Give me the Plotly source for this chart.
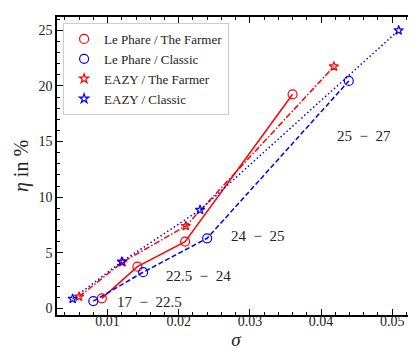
import plotly.graph_objects as go

# sigma / eta values per method, one point per magnitude bin
lp_farmer_sigma = [0.0092, 0.0142, 0.0209, 0.0360]
lp_farmer_eta = [0.9, 3.75, 6.0, 19.25]

lp_classic_sigma = [0.0080, 0.0150, 0.0240, 0.0439]
lp_classic_eta = [0.65, 3.25, 6.3, 20.45]

eazy_farmer_sigma = [0.0060, 0.0121, 0.0210, 0.0418]
eazy_farmer_eta = [1.05, 4.15, 7.4, 21.75]

eazy_classic_sigma = [0.0051, 0.0120, 0.0230, 0.0509]
eazy_classic_eta = [0.85, 4.2, 8.85, 25.0]

bin_labels = ["17\u2002−\u200222.5", "22.5\u2002−\u200224", "24\u2002−\u200225", "25\u2002−\u200227"]
label_x = [0.0111, 0.0180, 0.0270, 0.0419]
label_y = [0.55, 2.95, 6.5, 15.5]

series = [
    ("Le Phare / The Farmer", lp_farmer_sigma, lp_farmer_eta, "red", "solid", "circle-open", 9),
    ("Le Phare / Classic", lp_classic_sigma, lp_classic_eta, "blue", "5px,2.5px", "circle-open", 9),
    ("EAZY / The Farmer", eazy_farmer_sigma, eazy_farmer_eta, "red", "6px,2px,1.5px,2px", "star-open", 7),
    ("EAZY / Classic", eazy_classic_sigma, eazy_classic_eta, "blue", "1.5px,2.5px", "star-open", 7),
]

serif = "Liberation Serif, DejaVu Serif, serif"

fig = go.Figure()

# lines first (no legend), then markers with legend entries
for name, xs, ys, col, dash, sym, size in series:
    fig.add_trace(go.Scatter(x=xs, y=ys, mode="lines", showlegend=False,
                             line=dict(color=col, dash=dash, width=1.5),
                             hoverinfo="skip"))
for name, xs, ys, col, dash, sym, size in series:
    fig.add_trace(go.Scatter(x=xs, y=ys, mode="markers", name=name,
                             marker=dict(symbol=sym, size=size, color=col,
                                         line=dict(color=col, width=1.2))))

for txt, x, y in zip(bin_labels, label_x, label_y):
    fig.add_annotation(x=x, y=y, text=txt, showarrow=False, xanchor="left",
                       yanchor="middle", font=dict(family=serif, size=15, color="#222"))

axis_common = dict(showline=True, linecolor="black", linewidth=1.5, mirror="ticks",
                   ticks="inside", ticklen=6, tickwidth=1.3, tickcolor="black",
                   showgrid=False, zeroline=False,
                   tickfont=dict(family=serif, size=14, color="#222"))

fig.update_xaxes(range=[0.0029, 0.0532], dtick=0.01, tick0=0, tickformat=".2f",
                 ticklabelstandoff=-8,
                 minor=dict(ticks="inside", dtick=0.002, ticklen=3, tickwidth=1, tickcolor="black"),
                 title=dict(text="<i>σ</i>", font=dict(family=serif, size=19, color="#222"), standoff=0),
                 **axis_common)
fig.update_yaxes(range=[-0.6, 26.2], dtick=5, tick0=0,
                 minor=dict(ticks="inside", dtick=1, ticklen=3, tickwidth=1, tickcolor="black"),
                 title=dict(text="<i>η</i> in %", font=dict(family=serif, size=20, color="#222"), standoff=4),
                 **axis_common)

fig.update_layout(
    width=416, height=353,
    margin=dict(l=49, r=7, t=7, b=46),
    plot_bgcolor="white", paper_bgcolor="white",
    legend=dict(x=0.017, y=0.98, xanchor="left", yanchor="top",
                bgcolor="rgba(255,255,255,0.9)", bordercolor="#cccccc", borderwidth=1,
                font=dict(family=serif, size=13, color="#222"), itemwidth=30),
)

fig.write_html("out.html")
